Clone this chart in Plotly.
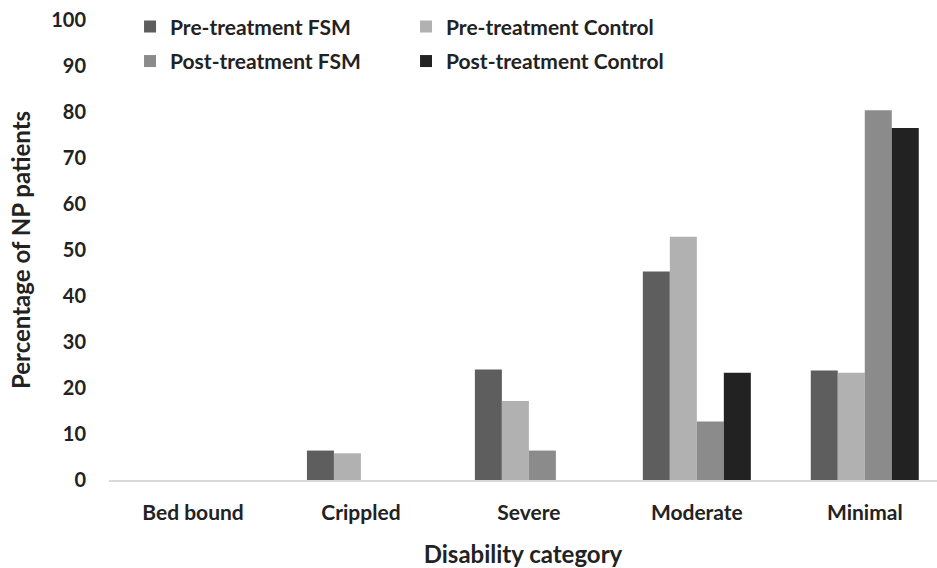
import plotly.graph_objects as go

categories = ["Bed bound", "Crippled", "Severe", "Moderate", "Minimal"]
pre_fsm = [0, 6.4, 24.0, 45.3, 23.8]
pre_control = [0, 5.8, 17.2, 52.9, 23.3]
post_fsm = [0, 0, 6.4, 12.7, 80.4]
post_control = [0, 0, 0, 23.3, 76.5]
y_ticks = list(range(0, 101, 10))

series = [
    ("Pre-treatment FSM", pre_fsm, "#5e5e5e", "legend"),
    ("Pre-treatment Control", pre_control, "#b1b1b1", "legend"),
    ("Post-treatment FSM", post_fsm, "#8b8b8b", "legend2"),
    ("Post-treatment Control", post_control, "#222222", "legend2"),
]

FONT = "Lato"
TXT = "#222222"
fig = go.Figure()
for name, vals, color, leg in series:
    fig.add_trace(go.Bar(x=categories, y=vals, name=name, marker_color=color,
                         marker_line_width=0, legend=leg))

legend_common = dict(orientation="h", xref="paper", yref="paper", xanchor="left",
                     yanchor="middle", entrywidth=231, entrywidthmode="pixels",
                     font=dict(family=FONT, size=21, color=TXT, weight="bold"),
                     bgcolor="rgba(0,0,0,0)", itemwidth=30)

fig.update_layout(
    width=937, height=568,
    margin=dict(l=109, r=0, t=20, b=88),
    paper_bgcolor="white", plot_bgcolor="white",
    barmode="group", bargap=0.357, bargroupgap=0,
    font=dict(family=FONT, size=20, color=TXT, weight="bold"),
    legend=dict(x=0.0254, y=0.985, **legend_common),
    legend2=dict(x=0.0254, y=0.91, **legend_common),
    xaxis=dict(range=[-0.5, 4.43], showline=True, linecolor="#d9d9d9", linewidth=2,
               showgrid=False, ticks="", ticklabelstandoff=13,
               tickfont=dict(family=FONT, size=21, color=TXT, weight="bold"),
               title=dict(text="Disability category", standoff=23,
                          font=dict(family=FONT, size=24, color=TXT, weight="bold"))),
    yaxis=dict(range=[0, 100], tickvals=y_ticks, showgrid=False, zeroline=False,
               showline=False, ticks="", ticklabelstandoff=22,
               tickfont=dict(family=FONT, size=20, color=TXT, weight="bold"),
               title=dict(text="Percentage of NP patients", standoff=13,
                          font=dict(family=FONT, size=24, color=TXT, weight="bold"))),
)

fig.write_html("out.html", config={"displayModeBar": False},
               post_script="document.body.style.margin='0';document.body.style.overflow='hidden';")
